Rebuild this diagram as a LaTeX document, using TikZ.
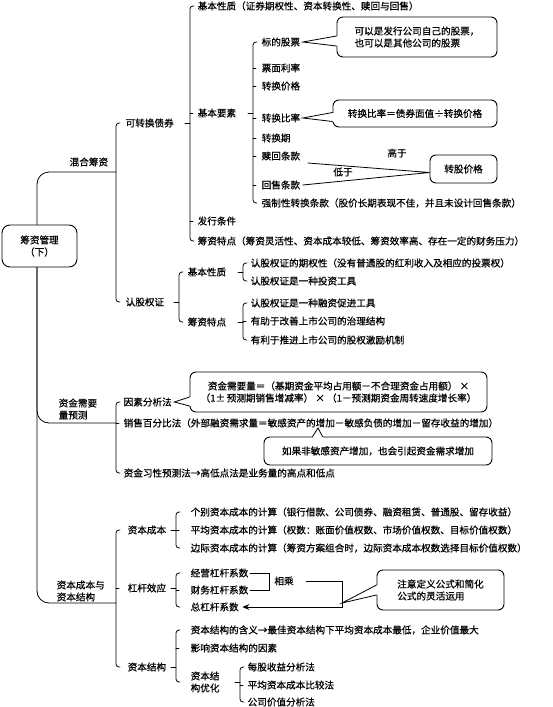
\documentclass[tikz,border=0pt]{standalone}
\usepackage{fontspec}
\setmainfont{Noto Sans CJK SC}[FakeBold=0.5]
\usetikzlibrary{arrows.meta,calc}
\newcommand\mybr[3]{\draw[br] ($(#2.west -| #1)+(4,0)$) -- (#2.west -| #1) -- (#3.west -| #1) -- ($(#3.west -| #1)+(4,0)$);}
\newcommand\mytick[2]{\draw[ln] (#2.west -| #1) -- ++(3,0);}
\newcommand\myptick[2]{\draw[ln] (#2.east -| #1) -- ++(-5,0);}
\newcommand\mywedge[3]{\draw[white,line width=2pt] (#2) -- (#3); \draw[ln] (#2) -- (#1) -- (#3);}
\begin{document}
\begin{tikzpicture}[x=1pt,y=-1pt,
 every node/.style={font=\fontsize{9.6}{12}\selectfont, inner xsep=0.5pt, inner ysep=1pt},
 lab/.style={anchor=west},
 ln/.style={line width=0.8pt, line cap=round},
 br/.style={ln, rounded corners=3pt},
 bub/.style={draw, line width=0.9pt, rounded corners=6pt, inner sep=0pt},
 trunk/.style={ln, rounded corners=12pt}]
\fill[white] (0,0) rectangle (553,707);
\useasboundingbox (0,0) rectangle (553,707);
\coordinate (tk) at (37,0);
\coordinate (bA) at (116,0);
\coordinate (bC1) at (190,0);
\coordinate (bC2) at (179,0);
\coordinate (bC3) at (176,0);
\coordinate (bD1) at (253,0);
\coordinate (bD2) at (243,0);
\coordinate (bD4) at (240,0);
\coordinate (x342) at (342,0);

% root
\node[draw, line width=0.9pt, rounded corners=8pt, minimum width=75pt, minimum height=42pt, align=center, inner sep=0pt] (root) at (39.5,246) {筹资管理\\（下）};

% level 1
\node[lab] (hhcz) at (69,162) {混合筹资};
\node[lab, align=left] (zjxq) at (58,409) {资金需要\\量预测};
\node[lab, align=left] (cbjg) at (56,591) {资本成本与\\资本结构};

% level 2
\node[lab] (kzz) at (125,123) {可转换债券};
\node[lab] (rgqz) at (125,302) {认股权证};
\node[lab] (yfx) at (123,402) {因素分析法};
\node[lab] (xsbf) at (123,423) {销售百分比法（外部融资需求量＝敏感资产的增加－敏感负债的增加－留存收益的增加）};
\node[lab] (zjxx) at (123,473) {资金习性预测法→高低点法是业务量的高点和低点};
\node[lab] (zbcb) at (127,530) {资本成本};
\node[lab] (ggxy) at (127,588) {杠杆效应};
\node[lab] (zbjg) at (127,667) {资本结构};

% level 3
\node[lab] (jbxz1) at (197,6) {基本性质（证券期权性、资本转换性、赎回与回售）};
\node[lab] (jbys) at (197,113) {基本要素};
\node[lab] (fxtj) at (197,221) {发行条件};
\node[lab] (czt1) at (197,241) {筹资特点（筹资灵活性、资本成本较低、筹资效率高、存在一定的财务压力）};
\node[lab] (jbxz2) at (187,272) {基本性质};
\node[lab] (czt2) at (187,322) {筹资特点};
\node[lab] (gb) at (190,512) {个别资本成本的计算（银行借款、公司债券、融资租赁、普通股、留存收益）};
\node[lab] (pj) at (190,530) {平均资本成本的计算（权数：账面价值权数、市场价值权数、目标价值权数）};
\node[lab] (bj) at (190,548) {边际资本成本的计算（筹资方案组合时，边际资本成本权数选择目标价值权数）};
\node[lab] (jy) at (190,573) {经营杠杆系数};
\node[lab] (cw) at (190,590) {财务杠杆系数};
\node[lab] (zg) at (190,607) {总杠杆系数};
\node[lab] (hy) at (190,630) {资本结构的含义→最佳资本结构下平均资本成本最低，企业价值最大};
\node[lab] (yx) at (190,648) {影响资本结构的因素};
\node[lab, align=left] (yh) at (190,682) {资本结\\构优化};

% level 4
\node[lab] (bdgp) at (261,42) {标的股票};
\node[lab] (pmll) at (261,68) {票面利率};
\node[lab] (zhjg) at (261,86) {转换价格};
\node[lab] (zhbl) at (261,118) {转换比率};
\node[lab] (zhq) at (261,138) {转换期};
\node[lab] (shtk) at (261,156) {赎回条款};
\node[lab] (hstk) at (261,185) {回售条款};
\node[lab] (qzx) at (261,203) {强制性转换条款（股价长期表现不佳，并且未设计回售条款）};
\node[lab] (qqx) at (250,263) {认股权证的期权性（没有普通股的红利收入及相应的投票权）};
\node[lab] (tzgj) at (250,281) {认股权证是一种投资工具};
\node[lab] (rzcj) at (250,303) {认股权证是一种融资促进工具};
\node[lab] (zljg) at (250,321) {有助于改善上市公司的治理结构};
\node[lab] (gqjl) at (250,340) {有利于推进上市公司的股权激励机制};
\node[lab] (mg) at (247,667) {每股收益分析法};
\node[lab] (pjb) at (247,685) {平均资本成本比较法};
\node[lab] (gs) at (247,702) {公司价值分析法};

% callouts
\node[bub, minimum width=160pt, minimum height=40pt, align=left] (cb1) at (417,37) {可以是发行公司自己的股票，\\也可以是其他公司的股票};
\node[bub, minimum width=164pt, minimum height=27pt] (cb2) at (415,113.5) {转换比率＝债券面值÷转换价格};
\node[bub, minimum width=67pt, minimum height=28pt] (zgjg) at (463.5,169) {转股价格};
\node (gy) at (397,153) {高于};
\node (dy) at (343,172) {低于};
\node[bub, minimum width=297pt, minimum height=40pt, align=center] (cb4) at (338.5,392) {资金需要量＝（基期资金平均占用额－不合理资金占用额）\ ×\\（1±\,预测期销售增减率）\ ×\ （1－预测期资金周转速度增长率）};
\node[bub, minimum width=228pt, minimum height=28pt] (cb5) at (378,451) {如果非敏感资产增加，也会引起资金需求增加};
\node[bub, minimum width=127pt, minimum height=40pt, align=left] (cb6) at (440.5,590) {注意定义公式和简化\\公式的灵活运用};
\node (xc) at (284,581) {相乘};

% trunk
\coordinate (j1) at (116,172);
\coordinate (j3) at (116,603);
\draw[trunk] (root.north -| tk) |- (j1);
\draw[trunk] (root.south -| tk) |- (xsbf.west -| bA);
\draw[trunk] (root.south -| tk) |- (j3);

% brackets
\mybr{bA}{kzz}{rgqz}
\mybr{bA}{yfx}{zjxx} \mytick{bA}{xsbf}
\mybr{bA}{zbcb}{zbjg} \mytick{bA}{ggxy}
\mybr{bC1}{jbxz1}{czt1} \mytick{bC1}{jbys} \mytick{bC1}{fxtj} \myptick{bC1}{kzz}
\mybr{bD1}{bdgp}{qzx}
\mytick{bD1}{pmll} \mytick{bD1}{zhjg} \mytick{bD1}{zhbl} \mytick{bD1}{zhq} \mytick{bD1}{shtk} \mytick{bD1}{hstk}
\myptick{bD1}{jbys}
\mybr{bC2}{jbxz2}{czt2} \myptick{bC2}{rgqz}
\mybr{bD2}{qqx}{tzgj} \myptick{bD2}{jbxz2}
\mybr{bD2}{rzcj}{gqjl} \mytick{bD2}{zljg} \myptick{bD2}{czt2}
\mybr{bC3}{gb}{bj} \mytick{bC3}{pj} \myptick{bC3}{zbcb}
\mybr{bC3}{jy}{zg} \mytick{bC3}{cw} \myptick{bC3}{ggxy}
\mybr{bC3}{hy}{yh} \mytick{bC3}{yx} \myptick{bC3}{zbjg}
\mybr{bD4}{mg}{gs} \mytick{bD4}{pjb} \myptick{bD4}{yh}

% callout pointers
\mywedge{$(bdgp.east)+(2,0)$}{$(cb1.west)+(0,-1)$}{$(cb1.west)+(0,9)$}
\mywedge{$(zhbl.east)+(2,0)$}{$(cb2.west)+(0,-1)$}{$(cb2.west)+(0,8)$}
\draw[ln] ($(shtk.east)+(7,7)$) -- ($(zgjg.west)+(0,3.5)$) -- ($(hstk.east)+(2,0)$);
\mywedge{$(yfx.east)+(2,0)$}{$(cb4.west)+(0,5)$}{$(cb4.west)+(0,14)$}
\coordinate (t5) at (318,428);
\mywedge{t5}{$(cb5.north west)+(49,0)$}{$(cb5.north west)+(59,0)$}
\coordinate (t6) at (342,603);
\mywedge{t6}{$(cb6.west)+(0,-5)$}{$(cb6.west)+(0,5)$}

% leverage
\draw[ln] ($(jy.east)+(1,0)$) -| ($(cw.east)+(20,0)$) -- ($(cw.east)+(1,0)$);
\draw[ln, -{Stealth[length=7pt,width=6pt,inset=2.5pt]}] ($(xc.east)+(12,0)$) -| (zg.east -| x342) -- ($(zg.east)+(3,0)$);
\end{tikzpicture}
\end{document}
